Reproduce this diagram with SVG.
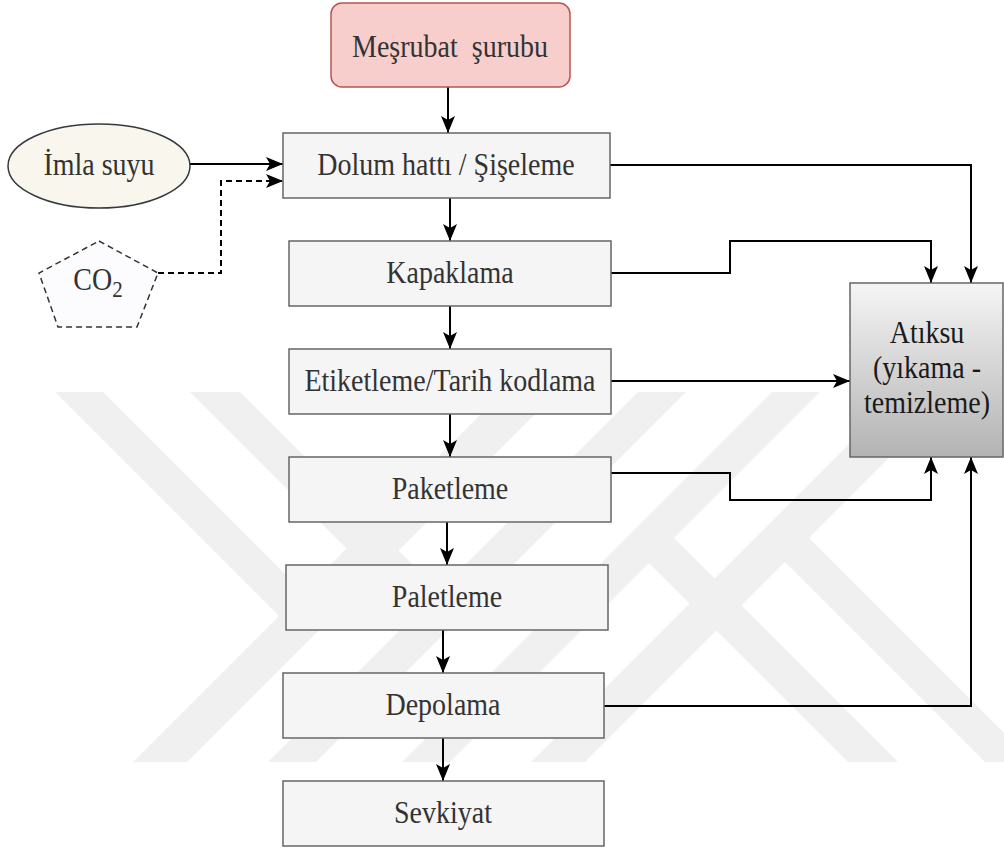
<svg xmlns="http://www.w3.org/2000/svg" width="1004" height="850" viewBox="0 0 1004 850">
  <style>
    .box { fill: #f5f5f5; stroke: #666666; stroke-width: 1.5; }
    .lbl { font-family: "Liberation Serif", "Times New Roman", serif; font-size: 28px; fill: #333333; text-anchor: middle; }
    .dark { fill: #1a1a1a; }
    .edge { fill: none; stroke: #000000; stroke-width: 2; }
    .dash { stroke-dasharray: 6 4; }
    .wm { fill: #f0f0f0; }
  </style>
  <defs>
    <marker id="arrow" markerUnits="userSpaceOnUse" markerWidth="18" markerHeight="14" refX="17" refY="7" orient="auto">
      <path d="M0,0 L17,7 L0,14 L4,7 Z" fill="#000000"/>
    </marker>
    <linearGradient id="wasteGrad" x1="0" y1="0" x2="0" y2="1">
      <stop offset="0" stop-color="#f5f5f5"/>
      <stop offset="1" stop-color="#b3b3b3"/>
    </linearGradient>
  </defs>

  <rect width="1004" height="850" fill="#ffffff"/>

  <!-- background emblem: long rising bands with short falling arms -->
  <g id="emblem">
    <polygon class="wm" points="133,762 187,762 557,392 503,392"/>
    <polygon class="wm" points="268,762 316,762 686,392 638,392"/>
    <polygon class="wm" points="55,392 103,392 330,619 279,616"/>
    <polygon class="wm" points="190,392 240,392 463,615 414,616"/>
    <polygon class="wm" points="772,392 820,392 450,762 402,762"/>
    <polygon class="wm" points="901,392 955,392 585,762 531,762"/>
    <polygon class="wm" points="848,762 898,762 674,538 625,539"/>
    <polygon class="wm" points="985,762 1033,762 809,538 758,535"/>
  </g>

  <g id="connectors">
    <!-- main flow -->
    <line class="edge" x1="448" y1="87" x2="448" y2="133" marker-end="url(#arrow)"/>
    <line class="edge" x1="450" y1="198" x2="450" y2="241" marker-end="url(#arrow)"/>
    <line class="edge" x1="450" y1="306" x2="450" y2="349" marker-end="url(#arrow)"/>
    <line class="edge" x1="450" y1="414" x2="450" y2="457" marker-end="url(#arrow)"/>
    <line class="edge" x1="447" y1="522" x2="447" y2="565" marker-end="url(#arrow)"/>
    <line class="edge" x1="443" y1="630" x2="443" y2="673" marker-end="url(#arrow)"/>
    <line class="edge" x1="443" y1="738" x2="443" y2="781" marker-end="url(#arrow)"/>
    <!-- inputs to filling -->
    <line class="edge" x1="190" y1="164" x2="283" y2="164" marker-end="url(#arrow)"/>
    <polyline class="edge dash" points="158,273 221,273 221,181 283,181" marker-end="url(#arrow)"/>
    <!-- waste water lines -->
    <polyline class="edge" points="610,165 971,165 971,283" marker-end="url(#arrow)"/>
    <polyline class="edge" points="611,273 730,273 730,241 931,241 931,283" marker-end="url(#arrow)"/>
    <line class="edge" x1="611" y1="381" x2="850" y2="381" marker-end="url(#arrow)"/>
    <polyline class="edge" points="611,473 730,473 730,500 931,500 931,457" marker-end="url(#arrow)"/>
    <polyline class="edge" points="604,706 971,706 971,457" marker-end="url(#arrow)"/>
  </g>

  <g id="syrup">
    <rect x="331" y="3" width="239" height="84" rx="11" fill="#f8cecc" stroke="#b85450" stroke-width="1.5"/>
    <text class="lbl" transform="translate(450,57) scale(1,1.12)" xml:space="preserve">Meşrubat  şurubu</text>
  </g>

  <g id="water">
    <ellipse cx="99" cy="166" rx="91" ry="42" fill="#f9f7ed" stroke="#36393d" stroke-width="1.5"/>
    <text class="lbl" transform="translate(99,175) scale(1,1.12)">İmla suyu</text>
  </g>

  <g id="co2">
    <polygon points="99,241 158,273 137,327 58,327 39,273" fill="#fcfcff" stroke="#333333" stroke-width="1.5" stroke-dasharray="6 4"/>
    <text class="lbl" transform="translate(98,290) scale(1,1.12)">CO<tspan dy="6" style="font-size:21px">2</tspan></text>
  </g>

  <g id="filling">
    <rect class="box" x="283" y="133" width="327" height="65"/>
    <text class="lbl" transform="translate(446,175) scale(1,1.12)">Dolum hattı / Şişeleme</text>
  </g>

  <g id="capping">
    <rect class="box" x="289" y="241" width="322" height="65"/>
    <text class="lbl" transform="translate(450,283) scale(1,1.12)">Kapaklama</text>
  </g>

  <g id="labeling">
    <rect class="box" x="289" y="349" width="322" height="65"/>
    <text class="lbl" transform="translate(450,391) scale(1,1.12)">Etiketleme/Tarih kodlama</text>
  </g>

  <g id="packing">
    <rect class="box" x="289" y="457" width="322" height="65"/>
    <text class="lbl" transform="translate(450,499) scale(1,1.12)">Paketleme</text>
  </g>

  <g id="palletizing">
    <rect class="box" x="286" y="565" width="322" height="65"/>
    <text class="lbl" transform="translate(447,607) scale(1,1.12)">Paletleme</text>
  </g>

  <g id="storage">
    <rect class="box" x="283" y="673" width="321" height="65"/>
    <text class="lbl" transform="translate(443,715) scale(1,1.12)">Depolama</text>
  </g>

  <g id="shipping">
    <rect class="box" x="283" y="781" width="321" height="65"/>
    <text class="lbl" transform="translate(443,823) scale(1,1.12)">Sevkiyat</text>
  </g>

  <g id="wastewater">
    <rect x="850" y="283" width="153" height="174" fill="url(#wasteGrad)" stroke="#666666" stroke-width="1.5"/>
    <text class="lbl dark" transform="translate(927,343) scale(1,1.12)">Atıksu</text>
    <text class="lbl dark" transform="translate(927,378) scale(1,1.12)">(yıkama -</text>
    <text class="lbl dark" transform="translate(927,413) scale(1,1.12)">temizleme)</text>
  </g>
</svg>
